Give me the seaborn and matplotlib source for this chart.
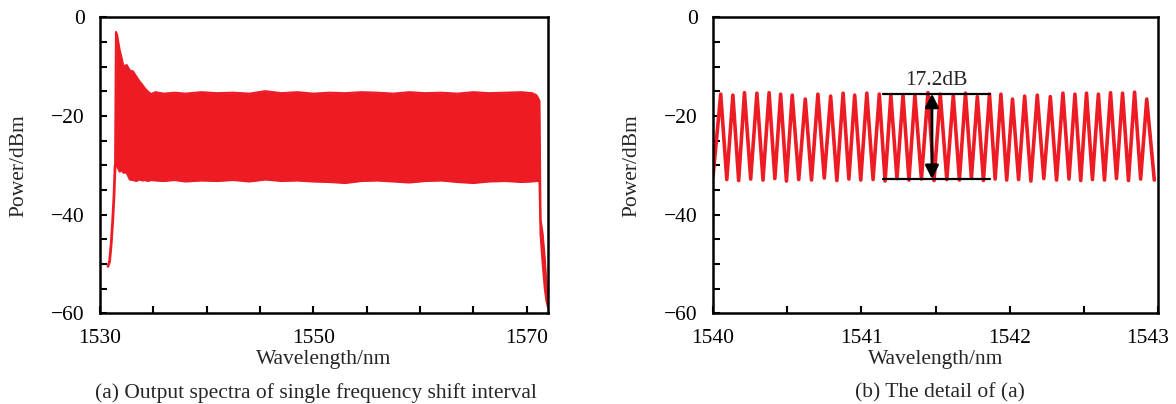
import numpy as np
import pandas as pd
import seaborn as sns
import matplotlib.pyplot as plt
import matplotlib.transforms as mtransforms
from matplotlib.ticker import MultipleLocator, FixedLocator

sns.set_theme(style="ticks")
plt.rcParams['font.family'] = ['Liberation Serif', 'DejaVu Serif']

red = "#ED1C24"
fs = 15.5

# (a) full spectrum: rising edge before the comb
lead_wl = [1530.75, 1530.9, 1531.05, 1531.2, 1531.32, 1531.42]
lead_db = [-50.5, -49.5, -46, -41, -36, -30]

# (a) comb drawn as its envelope (upper / lower edge)
band_wl = [1531.42, 1531.5, 1531.6, 1531.85, 1532.0, 1532.2, 1532.5, 1532.8,
           1533.1, 1533.4, 1533.7, 1534.0, 1534.2, 1534.5, 1534.8, 1535.2, 1536.0,
           1537.0, 1538.0, 1539.5, 1541.0, 1542.5, 1544.0, 1545.5, 1547.0, 1548.5,
           1550.0, 1551.5, 1553.0, 1554.5, 1556.0, 1557.5, 1559.0, 1560.5, 1562.0,
           1563.5, 1565.0, 1566.5, 1568.0, 1569.5, 1570.5, 1570.9, 1571.1, 1571.2,
           1571.3, 1571.5, 1571.7, 1571.85, 1572.0]
band_top = [-30, -3.0, -3.5, -6.7, -8.0, -10.0, -9.7, -10.8,
            -11.0, -12.0, -13.0, -13.8, -14.4, -15.1, -15.6, -15.2, -15.5,
            -15.3, -15.5, -15.2, -15.4, -15.3, -15.5, -15.0, -15.4, -15.2,
            -15.5, -15.3, -15.4, -15.2, -15.3, -15.5, -15.2, -15.4, -15.3,
            -15.5, -15.2, -15.4, -15.3, -15.2, -15.4, -15.8, -16.5, -17.0,
            -41.0, -44.0, -49.0, -54.0, -57.5]
band_bottom = [-30, -30.0, -30.2, -31.3, -31.0, -31.5, -31.5, -32.9,
               -33.0, -33.2, -32.9, -33.1, -33.0, -33.2, -33.0, -33.1, -33.2,
               -33.0, -33.3, -33.1, -33.2, -33.0, -33.3, -32.9, -33.2, -33.1,
               -33.3, -33.4, -33.6, -33.2, -33.1, -33.3, -33.5, -33.2, -33.1,
               -33.4, -33.6, -33.3, -33.2, -33.4, -33.3, -33.2, -33.2, -33.2,
               -44.0, -50.0, -55.0, -57.5, -58.8]

# (b) detail: comb peaks and troughs
peak_wl = [1540.052, 1540.134, 1540.212, 1540.296, 1540.378, 1540.456, 1540.534,
           1540.622, 1540.707, 1540.793, 1540.877, 1540.955, 1541.037, 1541.121,
           1541.199, 1541.281, 1541.361, 1541.449, 1541.532, 1541.620, 1541.702,
           1541.782, 1541.864, 1541.941, 1542.019, 1542.101, 1542.186, 1542.274,
           1542.359, 1542.440, 1542.518, 1542.598, 1542.680, 1542.761, 1542.842,
           1542.924]
peak_db = [-15.6, -15.8, -15.3, -15.4, -15.3, -15.6, -15.8,
           -16.6, -15.6, -16.0, -15.4, -15.8, -15.4, -15.6,
           -15.8, -15.8, -15.8, -15.3, -15.6, -15.8, -15.4,
           -16.1, -15.6, -15.6, -16.6, -16.0, -15.8, -16.1,
           -15.4, -15.6, -15.4, -15.6, -15.3, -15.4, -15.2,
           -16.6]
trough_wl = [1540.000, 1540.093, 1540.173, 1540.254, 1540.337, 1540.417, 1540.495,
             1540.578, 1540.664, 1540.750, 1540.835, 1540.916, 1540.996, 1541.079,
             1541.160, 1541.240, 1541.321, 1541.405, 1541.490, 1541.576, 1541.661,
             1541.742, 1541.823, 1541.902, 1541.980, 1542.060, 1542.143, 1542.230,
             1542.316, 1542.400, 1542.479, 1542.558, 1542.639, 1542.720, 1542.801,
             1542.883, 1542.975]
trough_db = [-32.3, -32.9, -33.1, -32.8, -33.0, -32.7, -33.2,
             -32.9, -33.0, -32.6, -33.1, -32.8, -33.0, -32.9,
             -33.2, -32.7, -33.0, -32.8, -33.1, -32.9, -33.0,
             -32.6, -33.1, -32.8, -33.0, -32.9, -33.2, -32.7,
             -33.0, -32.8, -33.1, -32.9, -33.0, -32.7, -33.1,
             -32.8, -33.0]

# extinction marker in (b)
mark_wl = [1541.143, 1541.866]
mark_top = -15.5
mark_bottom = -32.8
arrow_wl = 1541.476
mark_text = "17.2dB"

detail = pd.concat([
    pd.DataFrame({"wl": peak_wl, "db": peak_db}),
    pd.DataFrame({"wl": trough_wl, "db": trough_db}),
]).sort_values("wl")

fig = plt.figure(figsize=(11.76, 4.04), dpi=100)
ax1 = fig.add_axes([0.0850, 0.2245, 0.381, 0.733])
ax2 = fig.add_axes([0.6063, 0.2245, 0.3784, 0.733])

# (a)
sns.lineplot(x=lead_wl, y=lead_db, ax=ax1, color=red, lw=2)
ax1.fill_between(band_wl, band_top, band_bottom, color=red, lw=0)
sns.lineplot(x=band_wl, y=band_top, ax=ax1, color=red, lw=1.5)
sns.lineplot(x=band_wl, y=band_bottom, ax=ax1, color=red, lw=1.5)
ax1.set_xlim(1530, 1572)
ax1.xaxis.set_major_locator(FixedLocator([1530, 1550, 1570]))
ax1.xaxis.set_minor_locator(MultipleLocator(5))

# (b)
sns.lineplot(data=detail, x="wl", y="db", ax=ax2, color=red, lw=2.6, sort=False)
for y in (mark_top, mark_bottom):
    ax2.plot(mark_wl, [y, y], color="black", lw=1.6)
ax2.annotate("", xy=(arrow_wl, mark_top), xytext=(arrow_wl, mark_bottom),
             arrowprops=dict(arrowstyle="<|-|>", color="black", lw=2,
                             mutation_scale=20, shrinkA=0, shrinkB=0))
ax2.text(sum(mark_wl) / 2, mark_top + 0.8, mark_text, ha="center", va="bottom",
         fontsize=fs)
ax2.set_xlim(1540, 1543)
ax2.xaxis.set_major_locator(FixedLocator([1540, 1541, 1542, 1543]))
ax2.xaxis.set_minor_locator(MultipleLocator(0.5))

for ax in (ax1, ax2):
    ax.set_ylim(-60, 0)
    ax.yaxis.set_major_locator(MultipleLocator(20))
    ax.yaxis.set_minor_locator(MultipleLocator(5))
    ax.tick_params(which="both", direction="in", length=5, width=1.5,
                   top=False, right=False, colors="black")
    ax.tick_params(which="major", labelsize=fs, pad=11)
    for s in ax.spines.values():
        s.set_linewidth(1.8)
        s.set_color("black")
    ax.set_xlabel("Wavelength/nm", fontsize=fs, labelpad=2)
    ax.set_ylabel("Power/dBm", fontsize=fs, labelpad=16)

# last tick label of (b) sits a bit left so it stays on the page
fig.canvas.draw()
shift = mtransforms.ScaledTranslation(-10 / 100, 0, fig.dpi_scale_trans)
last = ax2.xaxis.get_major_ticks()[-1].label1
last.set_transform(last.get_transform() + shift)

fig.text(0.269, 0.028, "(a) Output spectra of single frequency shift interval",
         ha="center", va="center", fontsize=fs)
fig.text(0.799, 0.028, "(b) The detail of (a)", ha="center", va="center",
         fontsize=fs)

fig.savefig("out.png", dpi=100)
